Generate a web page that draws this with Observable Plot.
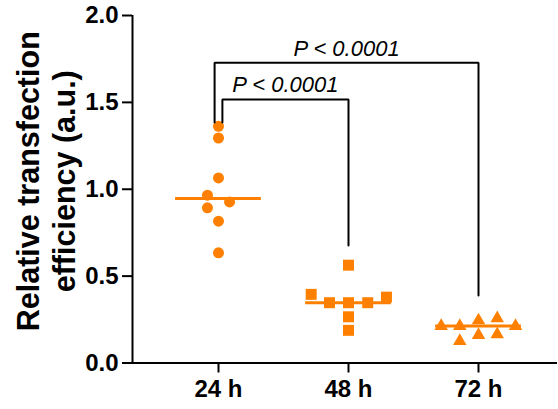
<!DOCTYPE html>
<html><head><meta charset="utf-8">
<script src="https://cdn.jsdelivr.net/npm/d3@7"></script>
<script src="https://cdn.jsdelivr.net/npm/@observablehq/plot@0.6"></script>
<style>
body{margin:0;background:#fff}
#chart svg{display:block;background:#fff}
</style>
</head><body><div id="chart"></div>
<script>
// ---- data ----
const groups = ["24 h", "48 h", "72 h"];
const values24 = [1.362, 1.295, 1.065, 0.966, 0.927, 0.893, 0.816, 0.634];
const values48 = [0.563, 0.395, 0.347, 0.347, 0.347, 0.379, 0.266, 0.188];
const values72 = [0.213, 0.213, 0.245, 0.257, 0.213, 0.126, 0.161, 0.165];
// horizontal scatter offsets (in category units)
const offsets24 = [0, 0, 0, -0.085, 0.085, -0.085, 0, 0];
const offsets48 = [0, -0.287, -0.146, 0, 0.148, 0.292, 0, 0];
const offsets72 = [-0.287, -0.144, 0, 0.144, 0.285, -0.144, 0, 0.144];
const yTicks = [0, 0.5, 1.0, 1.5, 2.0];
const yLabel = "Relative transfection\nefficiency (a.u.)";
// significance comparisons: [group a, group b]
const compareFrom = [0, 0];
const compareTo = [1, 2];
const compareLabels = ["P < 0.0001", "P < 0.0001"];
const bracketLevels = [1.517, 1.728];
const bracketLegA = [1.384, 1.384];
const bracketLegB = [0.676, 0.388];
const bracketOffsetA = [0.03, -0.03];

const orange = "#ff8000";
const series = [values24, values48, values72];
const offsets = [offsets24, offsets48, offsets72];
const points = groups.flatMap((g, i) => series[i].map((v, j) => ({group: g, gi: i, x: i + offsets[i][j], y: v})));
const medians = groups.map((g, i) => ({gi: i, m: d3.median(series[i])}));

const brackets = compareFrom.flatMap((a, k) => {
  const b = compareTo[k];
  const xa = a + bracketOffsetA[k];
  return [
    {k, x: xa, y: bracketLegA[k]},
    {k, x: xa, y: bracketLevels[k]},
    {k, x: b, y: bracketLevels[k]},
    {k, x: b, y: bracketLegB[k]}
  ];
});
const bracketText = compareFrom.map((a, k) => ({
  x: (a + bracketOffsetA[k] + compareTo[k]) / 2,
  y: bracketLevels[k],
  text: compareLabels[k]
}));

const xDomain = [-0.6615, 2.6077];

const chart = Plot.plot({
  width: 558,
  height: 409,
  marginLeft: 132,
  marginRight: 1,
  marginTop: 15,
  marginBottom: 46.5,
  style: {fontFamily: "'Liberation Sans', Arial, sans-serif", fontWeight: "bold", color: "#000", background: "#fff"},
  x: {domain: xDomain},
  y: {domain: [0, 2]},
  marks: [
    Plot.ruleY(medians, {y: "m", x1: d => d.gi - 0.33, x2: d => d.gi + 0.33, stroke: orange, strokeWidth: 3}),
    Plot.dot(points.filter(d => d.gi === 0), {x: "x", y: "y", symbol: "circle", r: 5.5, fill: orange}),
    Plot.dot(points.filter(d => d.gi === 1), {x: "x", y: "y", symbol: "square", r: 6.2, fill: orange}),
    Plot.dot(points.filter(d => d.gi === 2), {x: "x", y: "y", symbol: "triangle", r: 5.0, fill: orange}),
    Plot.line(brackets, {x: "x", y: "y", z: "k", stroke: "#000", strokeWidth: 2, strokeLinejoin: "miter", curve: "linear"}),
    Plot.text(bracketText, {x: "x", y: "y", text: "text", lineAnchor: "bottom", dy: -7, fontSize: 22, fontStyle: "italic", fontWeight: "normal", fill: "#000"}),
    Plot.ruleX([xDomain[0]], {stroke: "#000", strokeWidth: 2}),
    Plot.ruleY([0], {stroke: "#000", strokeWidth: 2}),
    Plot.axisY({ticks: yTicks, tickFormat: d3.format(".1f"), tickSize: 10, tickPadding: 4, fontSize: 24, fontWeight: "bold", strokeWidth: 2, label: null}),
    Plot.axisX({ticks: [0, 1, 2], tickFormat: i => groups[i], tickSize: 10, tickPadding: 7, fontSize: 24, fontWeight: "bold", strokeWidth: 2, label: null}),
    Plot.text([yLabel], {frameAnchor: "left", text: d => d, rotate: -90, dx: -87, dy: -8, fontSize: 30.5, lineHeight: 1.17, textAnchor: "middle", lineAnchor: "middle", fontWeight: "bold", fill: "#000"})
  ]
});
document.getElementById("chart").append(chart);
</script>
</body></html>
